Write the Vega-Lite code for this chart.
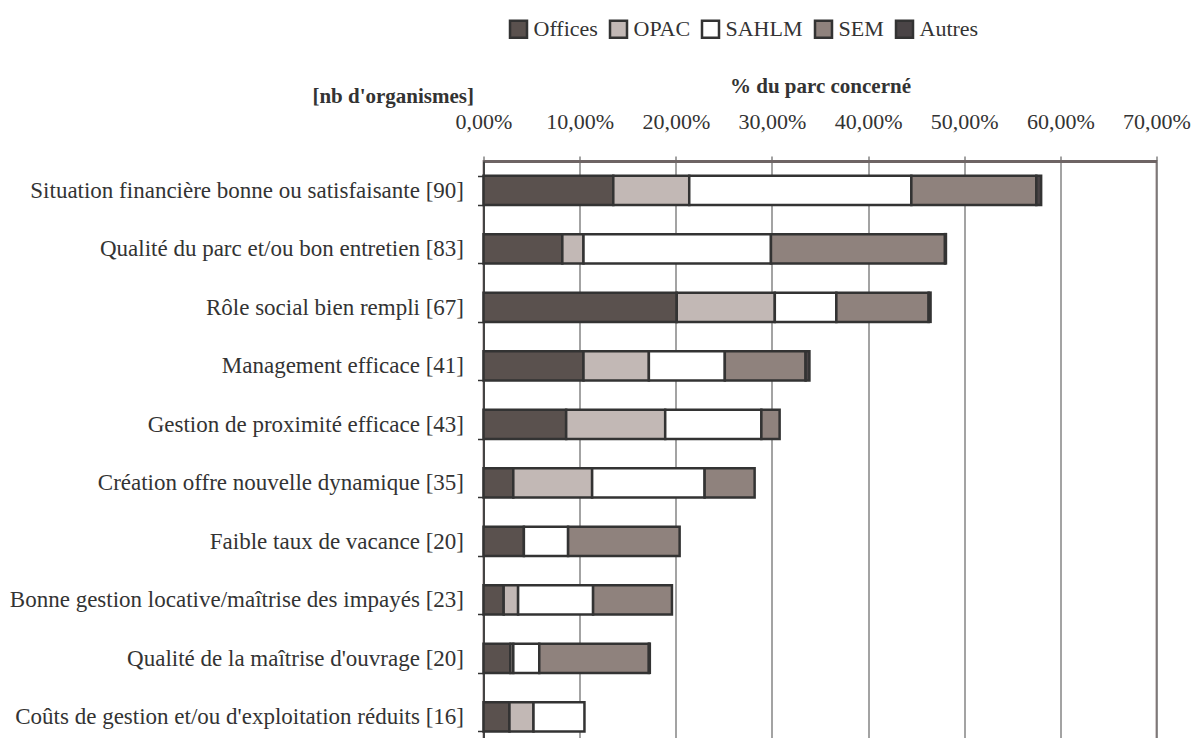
{
  "$schema": "https://vega.github.io/schema/vega-lite/v6.json",
  "width": 673,
  "height": 585,
  "autosize": {"type": "none"},
  "padding": {"left": 483.5, "top": 161, "right": 39.5, "bottom": 0},
  "background": "white",
  "config": {
    "font": "Liberation Serif",
    "view": {"stroke": "#a39595", "strokeWidth": 2}
  },
  "data": {
    "values": [
      {"critere": "Situation financière bonne ou satisfaisante [90]", "type": "Offices", "ordre": 1, "pct": 13.5},
      {"critere": "Situation financière bonne ou satisfaisante [90]", "type": "OPAC", "ordre": 2, "pct": 7.9},
      {"critere": "Situation financière bonne ou satisfaisante [90]", "type": "SAHLM", "ordre": 3, "pct": 23.1},
      {"critere": "Situation financière bonne ou satisfaisante [90]", "type": "SEM", "ordre": 4, "pct": 13.0},
      {"critere": "Situation financière bonne ou satisfaisante [90]", "type": "Autres", "ordre": 5, "pct": 0.5},
      {"critere": "Qualité du parc et/ou bon entretien [83]", "type": "Offices", "ordre": 1, "pct": 8.2},
      {"critere": "Qualité du parc et/ou bon entretien [83]", "type": "OPAC", "ordre": 2, "pct": 2.2},
      {"critere": "Qualité du parc et/ou bon entretien [83]", "type": "SAHLM", "ordre": 3, "pct": 19.5},
      {"critere": "Qualité du parc et/ou bon entretien [83]", "type": "SEM", "ordre": 4, "pct": 18.1},
      {"critere": "Qualité du parc et/ou bon entretien [83]", "type": "Autres", "ordre": 5, "pct": 0.1},
      {"critere": "Rôle social bien rempli [67]", "type": "Offices", "ordre": 1, "pct": 20.1},
      {"critere": "Rôle social bien rempli [67]", "type": "OPAC", "ordre": 2, "pct": 10.2},
      {"critere": "Rôle social bien rempli [67]", "type": "SAHLM", "ordre": 3, "pct": 6.4},
      {"critere": "Rôle social bien rempli [67]", "type": "SEM", "ordre": 4, "pct": 9.6},
      {"critere": "Rôle social bien rempli [67]", "type": "Autres", "ordre": 5, "pct": 0.2},
      {"critere": "Management efficace [41]", "type": "Offices", "ordre": 1, "pct": 10.4},
      {"critere": "Management efficace [41]", "type": "OPAC", "ordre": 2, "pct": 6.8},
      {"critere": "Management efficace [41]", "type": "SAHLM", "ordre": 3, "pct": 7.9},
      {"critere": "Management efficace [41]", "type": "SEM", "ordre": 4, "pct": 8.4},
      {"critere": "Management efficace [41]", "type": "Autres", "ordre": 5, "pct": 0.4},
      {"critere": "Gestion de proximité efficace [43]", "type": "Offices", "ordre": 1, "pct": 8.6},
      {"critere": "Gestion de proximité efficace [43]", "type": "OPAC", "ordre": 2, "pct": 10.3},
      {"critere": "Gestion de proximité efficace [43]", "type": "SAHLM", "ordre": 3, "pct": 10.0},
      {"critere": "Gestion de proximité efficace [43]", "type": "SEM", "ordre": 4, "pct": 1.9},
      {"critere": "Création offre nouvelle dynamique [35]", "type": "Offices", "ordre": 1, "pct": 3.1},
      {"critere": "Création offre nouvelle dynamique [35]", "type": "OPAC", "ordre": 2, "pct": 8.2},
      {"critere": "Création offre nouvelle dynamique [35]", "type": "SAHLM", "ordre": 3, "pct": 11.7},
      {"critere": "Création offre nouvelle dynamique [35]", "type": "SEM", "ordre": 4, "pct": 5.2},
      {"critere": "Faible taux de vacance [20]", "type": "Offices", "ordre": 1, "pct": 4.2},
      {"critere": "Faible taux de vacance [20]", "type": "SAHLM", "ordre": 3, "pct": 4.6},
      {"critere": "Faible taux de vacance [20]", "type": "SEM", "ordre": 4, "pct": 11.6},
      {"critere": "Bonne gestion locative/maîtrise des impayés [23]", "type": "Offices", "ordre": 1, "pct": 2.1},
      {"critere": "Bonne gestion locative/maîtrise des impayés [23]", "type": "OPAC", "ordre": 2, "pct": 1.5},
      {"critere": "Bonne gestion locative/maîtrise des impayés [23]", "type": "SAHLM", "ordre": 3, "pct": 7.8},
      {"critere": "Bonne gestion locative/maîtrise des impayés [23]", "type": "SEM", "ordre": 4, "pct": 8.2},
      {"critere": "Qualité de la maîtrise d'ouvrage [20]", "type": "Offices", "ordre": 1, "pct": 2.8},
      {"critere": "Qualité de la maîtrise d'ouvrage [20]", "type": "OPAC", "ordre": 2, "pct": 0.3},
      {"critere": "Qualité de la maîtrise d'ouvrage [20]", "type": "SAHLM", "ordre": 3, "pct": 2.7},
      {"critere": "Qualité de la maîtrise d'ouvrage [20]", "type": "SEM", "ordre": 4, "pct": 11.4},
      {"critere": "Qualité de la maîtrise d'ouvrage [20]", "type": "Autres", "ordre": 5, "pct": 0.1},
      {"critere": "Coûts de gestion et/ou d'exploitation réduits [16]", "type": "Offices", "ordre": 1, "pct": 2.7},
      {"critere": "Coûts de gestion et/ou d'exploitation réduits [16]", "type": "OPAC", "ordre": 2, "pct": 2.5},
      {"critere": "Coûts de gestion et/ou d'exploitation réduits [16]", "type": "SAHLM", "ordre": 3, "pct": 5.3}
    ]
  },
  "mark": {"type": "bar", "stroke": "#333333", "strokeWidth": 2.5, "strokeJoin": "miter"},
  "encoding": {
    "y": {
      "field": "critere",
      "type": "nominal",
      "sort": [
        "Situation financière bonne ou satisfaisante [90]",
        "Qualité du parc et/ou bon entretien [83]",
        "Rôle social bien rempli [67]",
        "Management efficace [41]",
        "Gestion de proximité efficace [43]",
        "Création offre nouvelle dynamique [35]",
        "Faible taux de vacance [20]",
        "Bonne gestion locative/maîtrise des impayés [23]",
        "Qualité de la maîtrise d'ouvrage [20]",
        "Coûts de gestion et/ou d'exploitation réduits [16]"
      ],
      "scale": {"paddingInner": 0.5, "paddingOuter": 0.25},
      "axis": {
        "title": "[nb d'organismes]",
        "titleFont": "Liberation Serif",
        "titleFontSize": 21,
        "titleFontWeight": "bold",
        "titleColor": "#333333",
        "titleAngle": 0,
        "titleAlign": "right",
        "titleBaseline": "middle",
        "titleX": -10,
        "titleY": -65,
        "labelFont": "Liberation Serif",
        "labelFontSize": 23,
        "labelColor": "#333333",
        "labelPadding": 14,
        "labelLimit": 600,
        "tickBand": "extent",
        "tickSize": 6,
        "tickColor": "#333333",
        "tickWidth": 1.5,
        "domainColor": "#444444",
        "domainWidth": 2,
        "grid": false
      }
    },
    "x": {
      "field": "pct",
      "type": "quantitative",
      "stack": "zero",
      "scale": {"domain": [0, 70], "nice": false},
      "axis": {
        "orient": "top",
        "title": "% du parc concerné",
        "titleFont": "Liberation Serif",
        "titleFontSize": 21,
        "titleFontWeight": "bold",
        "titleColor": "#333333",
        "titlePadding": 14,
        "values": [0, 10, 20, 30, 40, 50, 60, 70],
        "labelExpr": "replace(format(datum.value, '.2f'), '.', ',') + '%'",
        "labelFont": "Liberation Serif",
        "labelFontSize": 22,
        "labelColor": "#333333",
        "labelFlush": false,
        "labelOverlap": false,
        "labelPadding": 23,
        "tickSize": 5,
        "tickColor": "#444444",
        "domainColor": "#6e6464",
        "domainWidth": 3,
        "grid": true,
        "gridColor": "#666666",
        "gridWidth": 1.2
      }
    },
    "color": {
      "field": "type",
      "type": "nominal",
      "scale": {
        "domain": ["Offices", "OPAC", "SAHLM", "SEM", "Autres"],
        "range": ["#5a514e", "#c2b8b5", "#ffffff", "#8f827d", "#4a4446"]
      },
      "legend": {
        "title": null,
        "orient": "none",
        "direction": "horizontal",
        "legendX": 24,
        "legendY": -143,
        "symbolType": "square",
        "symbolSize": 289,
        "symbolStrokeColor": "#333333",
        "symbolStrokeWidth": 2.5,
        "symbolOpacity": 1,
        "labelFont": "Liberation Serif",
        "labelFontSize": 22,
        "labelColor": "#333333",
        "labelOffset": 4,
        "columnPadding": 6
      }
    },
    "order": {"field": "ordre", "type": "quantitative"}
  }
}
